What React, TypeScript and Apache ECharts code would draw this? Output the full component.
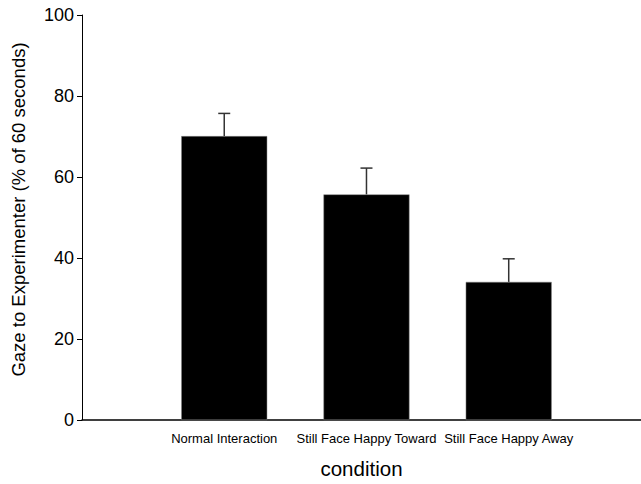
import React, { useEffect, useRef } from "react";
import * as echarts from "echarts";

const categories = ["Normal Interaction", "Still Face Happy Toward", "Still Face Happy Away"];
const means = [70.1, 55.7, 34.1];
const upperErrors = [75.7, 62.2, 39.8];
const yTicks = [0, 20, 40, 60, 80, 100];

export default function App() {
  const ref = useRef<HTMLDivElement>(null);
  useEffect(() => {
    if (!ref.current) return;
    const chart = echarts.init(ref.current, null, { renderer: "svg" });
    const font = "'Liberation Sans', Arial, Helvetica, sans-serif";
    chart.setOption({
      animation: false,
      textStyle: { fontFamily: font },
      grid: { left: 82, top: 15, right: 0, bottom: 59, containLabel: false },
      xAxis: {
        type: "value",
        min: 0,
        max: 3.93,
        interval: 1,
        splitLine: { show: false },
        axisTick: { show: false },
        axisLine: { show: true, lineStyle: { color: "#000", width: 1.5 } },
        axisLabel: {
          showMaxLabel: false,
          showMinLabel: false,
          margin: 12,
          fontSize: 13,
          color: "#000",
          fontFamily: font,
          formatter: (v: number) => {
            const i = Math.round(v) - 1;
            return Math.abs(v - Math.round(v)) < 1e-6 && i >= 0 && i < categories.length ? categories[i] : "";
          },
        },
        name: "condition",
        nameLocation: "middle",
        nameGap: 38,
        nameTextStyle: { fontSize: 20.5, color: "#000", fontFamily: font },
      },
      yAxis: {
        type: "value",
        min: yTicks[0],
        max: yTicks[yTicks.length - 1],
        interval: 20,
        splitLine: { show: false },
        axisLine: { show: true, lineStyle: { color: "#000", width: 1 } },
        axisTick: { show: true, length: 5, lineStyle: { color: "#000" } },
        axisLabel: { fontSize: 18, color: "#000", margin: 8, fontFamily: font },
        name: "Gaze to Experimenter (% of 60 seconds)",
        nameLocation: "middle",
        nameGap: 54,
        nameTextStyle: { fontSize: 18.5, color: "#000", fontFamily: font, padding: [0, 0, 0, 16] },
      },
      series: [
        {
          type: "bar",
          data: means.map((m, i) => [i + 1, m]),
          barWidth: 86,
          itemStyle: { color: "#000", borderColor: "#888", borderWidth: 0.5 },
          z: 2,
        },
        {
          type: "custom",
          data: means.map((m, i) => [i + 1, m, upperErrors[i]]),
          z: 3,
          renderItem: (params: any, api: any) => {
            const x = api.value(0);
            const low = api.coord([x, api.value(1)]);
            const high = api.coord([x, api.value(2)]);
            const half = 6;
            const style = { stroke: "#333", lineWidth: 1.5 };
            return {
              type: "group",
              children: [
                { type: "line", shape: { x1: low[0], y1: low[1], x2: high[0], y2: high[1] }, style },
                { type: "line", shape: { x1: high[0] - half, y1: high[1], x2: high[0] + half, y2: high[1] }, style },
              ],
            };
          },
        },
      ],
    });
    return () => chart.dispose();
  }, []);
  return <div ref={ref} style={{ width: 641, height: 484, position: "absolute", left: 0, top: 0 }} />;
}
